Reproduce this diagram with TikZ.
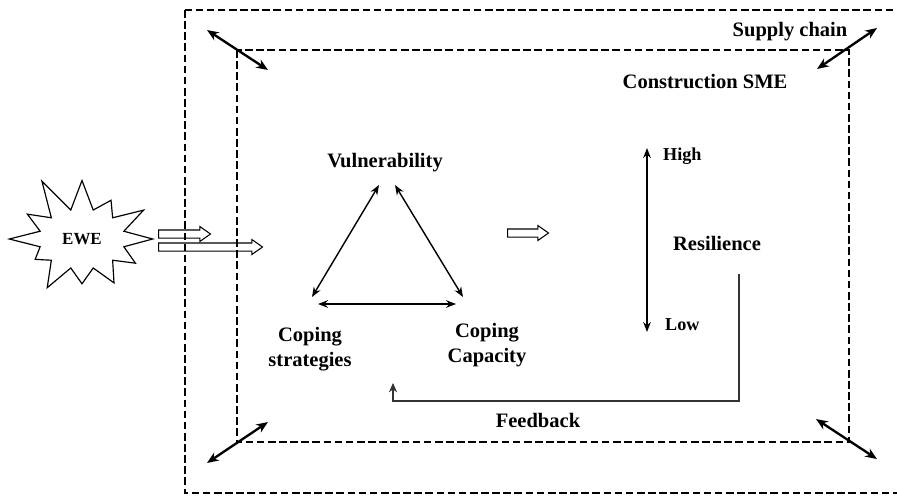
\documentclass[tikz,border=0pt]{standalone}
\usepackage{fontspec}
\setmainfont{Liberation Serif}
\usetikzlibrary{arrows.meta, positioning, shapes.symbols, shapes.arrows}

\begin{document}
\begin{tikzpicture}[x=0.03cm, y=-0.03cm,
    dashbox/.style={line width=2.3pt, dash pattern=on 6.5pt off 3pt},
    lbl/.style={font=\fontsize{17.5}{21.5}\selectfont\bfseries, align=center, inner sep=0pt},
    lvl/.style={font=\fontsize{15.5}{18}\selectfont\bfseries, anchor=west, inner sep=0pt},
    link/.style={line width=1.2pt, {Stealth[length=8.5pt,width=6.5pt]}-{Stealth[length=8.5pt,width=6.5pt]}},
    corner/.style={line width=2pt, {Stealth[length=10pt,width=8pt]}-{Stealth[length=10pt,width=8pt]}},
    hollow/.style={single arrow, draw, line width=0.9pt, inner sep=0.105cm, single arrow head extend=0.105cm,
        single arrow tip angle=70, anchor=tail, minimum height=#1},
    fb/.style={line width=1pt, draw=black!80, -{Stealth[length=8pt,width=7pt]}}
]
    \useasboundingbox (0,0) rectangle (897,495);
    \draw[dashbox] (185,10) rectangle (902,493);
    \draw[dashbox] (237,50) rectangle (849,442);

    \node[shape=starburst, draw, line width=1pt, starburst points=12, starburst point height=1.15cm,
        random starburst=11, minimum width=4.9cm, minimum height=4.1cm,
        font=\fontsize{14.5}{17}\selectfont\bfseries] (ewe) at (82,239) {EWE};
    \node[hollow=1.56cm] (in1) at (158,234) {};
    \node[hollow=3.12cm] (in2) at (158,247) {};
    \node[hollow=1.23cm] (mid) at (507,233) {};

    \node[lbl] (sc) at (790,32) {Supply chain};
    \node[lbl] (sme) at (705,82) {Construction SME};
    \node[lbl] (vul) at (385,163) {Vulnerability};
    \node[lbl] (cs) at (310,349) {Coping\\strategies};
    \node[lbl] (cc) at (487,345) {Coping\\Capacity};
    \node[lbl] (res) at (717,243) {Resilience};
    \node[lbl] (fbk) at (538,420) {Feedback};
    \node[lvl] (high) at (663,156) {High};
    \node[lvl] (low) at (665,325) {Low};

    \coordinate (vl) at (379,185); \coordinate (vr) at (395,185);
    \coordinate (sl) at (312,297); \coordinate (cr) at (463,297);
    \coordinate (sb) at (318,304); \coordinate (cb) at (456,304);
    \draw[link] (vl) -- (sl);
    \draw[link] (vr) -- (cr);
    \draw[link] (sb) -- (cb);

    \coordinate (hi) at (647,148); \coordinate (lo) at (647,332);
    \draw[link, line width=1.6pt] (hi) -- (lo);

    \coordinate (fbtop) at (739,274); \coordinate (fbend) at (393,401); \coordinate (fbtip) at (393,383);
    \draw[fb] (fbtop) |- (fbend) -- (fbtip);

    \coordinate (tla) at (207,30); \coordinate (tlb) at (268,70);
    \coordinate (tra) at (877,28); \coordinate (trb) at (817,69);
    \coordinate (bla) at (207,463); \coordinate (blb) at (268,422);
    \coordinate (bra) at (816,419); \coordinate (brb) at (877,459);
    \draw[corner] (tla) -- (tlb);
    \draw[corner] (tra) -- (trb);
    \draw[corner] (bla) -- (blb);
    \draw[corner] (bra) -- (brb);
\end{tikzpicture}
\end{document}
